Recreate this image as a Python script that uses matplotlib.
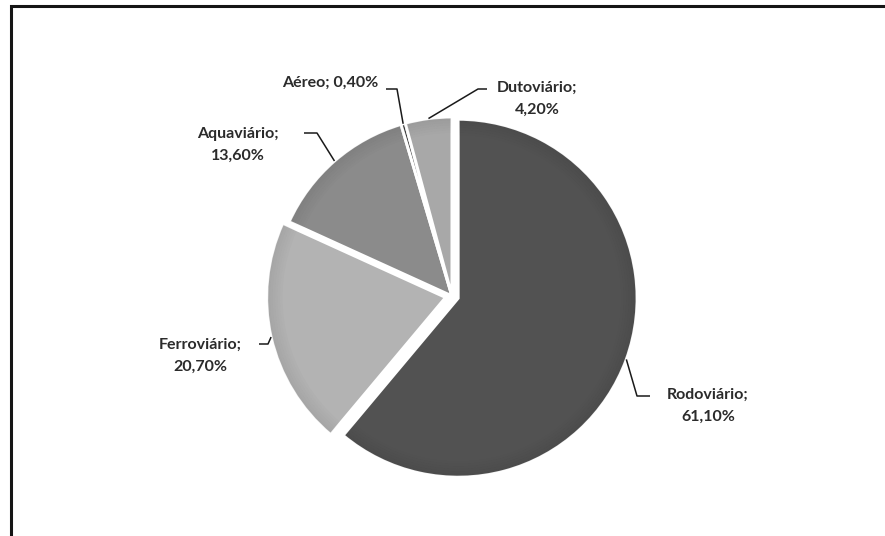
import matplotlib.pyplot as plt
from matplotlib.patches import Rectangle, Wedge
import numpy as np

# Transport matrix share (%)
modes = ['Rodoviário', 'Ferroviário', 'Aquaviário', 'Aéreo', 'Dutoviário']
shares = [61.10, 20.70, 13.60, 0.40, 4.20]
colors = ['#525252', '#b3b3b3', '#8b8b8b', '#3c3c3c', '#a8a8a8']
explode = [6.5, 6.5, 0, 0, 0]  # offsets in pixels

W, H = 885, 536
fig = plt.figure(figsize=(W / 100, H / 100), dpi=100)
ax = fig.add_axes([0, 0, 1, 1])

# outer chart border (cut off on the right and bottom)
ax.add_patch(Rectangle((11, -20), W + 20, H - 6 + 20, fill=False,
                       edgecolor='#151515', lw=2.2, zorder=1))

cx, cy, r = 452, H - 296, 179
wedges, _ = ax.pie(shares, colors=colors, explode=explode, startangle=90,
                   counterclock=False, center=(cx, cy), radius=r,
                   wedgeprops=dict(edgecolor='white', linewidth=2.2))
ax.set_xlim(0, W)
ax.set_ylim(0, H)
ax.set_aspect('equal')
ax.axis('off')

# darker rim on each slice
for w in wedges:
    for k in range(6):
        ax.add_patch(Wedge(w.center, w.r - 1 - k * 2.5, w.theta1 + 0.3, w.theta2 - 0.3,
                           width=2.5, color='black', alpha=0.035 * (6 - k) / 3,
                           lw=0, zorder=w.get_zorder() + 0.1))


def fmt(v):
    return f'{v:.2f}'.replace('.', ',') + '%'


# label text centre, leader start, leader elbow (pixel coordinates from top)
label_pos = {
    'Rodoviário': ((708, 406), (650, 396), (637, 396)),
    'Ferroviário': ((200, 356), (259, 344), (268, 344)),
    'Aquaviário': ((238, 145), (304, 133), (317, 133)),
    'Aéreo': ((330, 83), (386, 89), (397, 89)),
    'Dutoviário': ((537, 99), (487, 89), (478, 89)),
}

for w, name, v in zip(wedges, modes, shares):
    mid = np.deg2rad((w.theta1 + w.theta2) / 2)
    ex = w.center[0] + w.r * np.cos(mid)
    ey = w.center[1] + w.r * np.sin(mid)
    (tx, ty), (sx, sy), (bx, by) = label_pos[name]
    ax.plot([sx, bx, ex], [H - sy, H - by, ey], color='#1a1a1a', lw=1.1,
            solid_capstyle='butt', zorder=5)
    if name == 'Aéreo':
        txt = f'{name}; {fmt(v)}'
    else:
        txt = f'{name};\n{fmt(v)}'
    ax.text(tx, H - ty, txt, ha='center', va='center', fontsize=11.5,
            family='Lato', fontweight='bold', color='#2b2b2b',
            linespacing=1.75, zorder=6)

fig.savefig('out.png', dpi=100)
